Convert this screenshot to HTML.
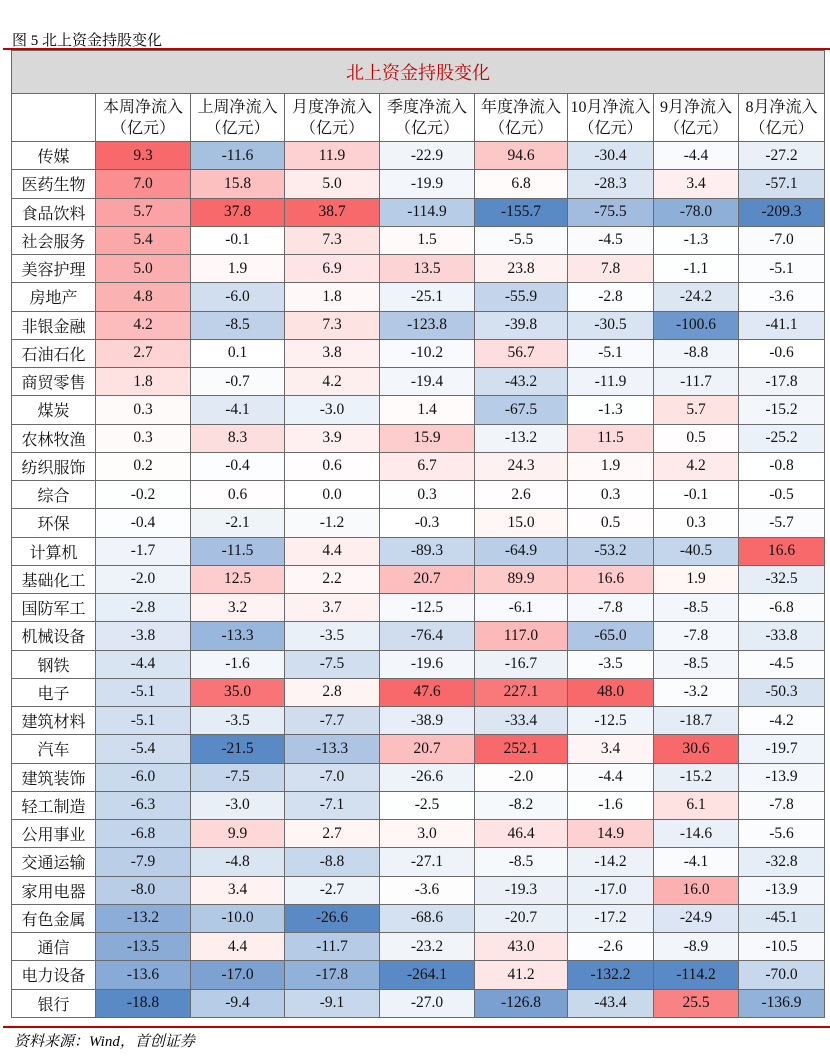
<!DOCTYPE html>
<html><head><meta charset="utf-8"><style>
body{margin:0;width:830px;height:1060px;background:#fff;font-family:"Liberation Serif","Noto Serif CJK SC",serif;position:relative;overflow:hidden}
#cap{position:absolute;left:12px;top:29px;font-size:15px;color:#000}
.rl{position:absolute;left:3px;width:827px;height:2px;background:#c00000}
#src{position:absolute;left:14px;top:1030px;font-size:15px;font-style:italic}
table{position:absolute;left:11px;top:50px;border-collapse:collapse;table-layout:fixed;width:813px}
td{border:1px solid #6a6a6a;text-align:center;font-size:15.5px;padding:0;height:27.25px;color:#111}
td.t{background:#d9d9d9;color:#c00000;font-size:18px;height:42px}
td.h{height:47px;line-height:21px;font-size:16px}
td.l{font-size:16px}
</style></head><body>
<div id="cap">图 5 北上资金持股变化</div>
<div class="rl" style="top:48px"></div>
<table id="tb">
<colgroup><col style="width:84px"><col style="width:95px"><col style="width:94px"><col style="width:95px"><col style="width:95px"><col style="width:93px"><col style="width:86px"><col style="width:85px"><col style="width:86px"></colgroup>
</table>
<div class="rl" style="top:1026px"></div>
<div id="src">资料来源：Wind，首创证券</div>
<script>
const headers=["本周净流入","上周净流入","月度净流入","季度净流入","年度净流入","10月净流入","9月净流入","8月净流入"];
const industries=["传媒","医药生物","食品饮料","社会服务","美容护理","房地产","非银金融","石油石化","商贸零售","煤炭","农林牧渔","纺织服饰","综合","环保","计算机","基础化工","国防军工","机械设备","钢铁","电子","建筑材料","汽车","建筑装饰","轻工制造","公用事业","交通运输","家用电器","有色金属","通信","电力设备","银行"];
const values=[
[9.3,-11.6,11.9,-22.9,94.6,-30.4,-4.4,-27.2],
[7.0,15.8,5.0,-19.9,6.8,-28.3,3.4,-57.1],
[5.7,37.8,38.7,-114.9,-155.7,-75.5,-78.0,-209.3],
[5.4,-0.1,7.3,1.5,-5.5,-4.5,-1.3,-7.0],
[5.0,1.9,6.9,13.5,23.8,7.8,-1.1,-5.1],
[4.8,-6.0,1.8,-25.1,-55.9,-2.8,-24.2,-3.6],
[4.2,-8.5,7.3,-123.8,-39.8,-30.5,-100.6,-41.1],
[2.7,0.1,3.8,-10.2,56.7,-5.1,-8.8,-0.6],
[1.8,-0.7,4.2,-19.4,-43.2,-11.9,-11.7,-17.8],
[0.3,-4.1,-3.0,1.4,-67.5,-1.3,5.7,-15.2],
[0.3,8.3,3.9,15.9,-13.2,11.5,0.5,-25.2],
[0.2,-0.4,0.6,6.7,24.3,1.9,4.2,-0.8],
[-0.2,0.6,0.0,0.3,2.6,0.3,-0.1,-0.5],
[-0.4,-2.1,-1.2,-0.3,15.0,0.5,0.3,-5.7],
[-1.7,-11.5,4.4,-89.3,-64.9,-53.2,-40.5,16.6],
[-2.0,12.5,2.2,20.7,89.9,16.6,1.9,-32.5],
[-2.8,3.2,3.7,-12.5,-6.1,-7.8,-8.5,-6.8],
[-3.8,-13.3,-3.5,-76.4,117.0,-65.0,-7.8,-33.8],
[-4.4,-1.6,-7.5,-19.6,-16.7,-3.5,-8.5,-4.5],
[-5.1,35.0,2.8,47.6,227.1,48.0,-3.2,-50.3],
[-5.1,-3.5,-7.7,-38.9,-33.4,-12.5,-18.7,-4.2],
[-5.4,-21.5,-13.3,20.7,252.1,3.4,30.6,-19.7],
[-6.0,-7.5,-7.0,-26.6,-2.0,-4.4,-15.2,-13.9],
[-6.3,-3.0,-7.1,-2.5,-8.2,-1.6,6.1,-7.8],
[-6.8,9.9,2.7,3.0,46.4,14.9,-14.6,-5.6],
[-7.9,-4.8,-8.8,-27.1,-8.5,-14.2,-4.1,-32.8],
[-8.0,3.4,-2.7,-3.6,-19.3,-17.0,16.0,-13.9],
[-13.2,-10.0,-26.6,-68.6,-20.7,-17.2,-24.9,-45.1],
[-13.5,4.4,-11.7,-23.2,43.0,-2.6,-8.9,-10.5],
[-13.6,-17.0,-17.8,-264.1,41.2,-132.2,-114.2,-70.0],
[-18.8,-9.4,-9.1,-27.0,-126.8,-43.4,25.5,-136.9]];
const tb=document.getElementById('tb');
function mix(c,t){return 'rgb('+c.map(x=>Math.round(255+(x-255)*t)).join(',')+')';}
const mx=headers.map((h,j)=>Math.max(...values.map(r=>r[j])));
const mn=headers.map((h,j)=>Math.min(...values.map(r=>r[j])));
let tr=document.createElement('tr');
let td=document.createElement('td');td.colSpan=9;td.className='t';td.textContent='北上资金持股变化';


tr.appendChild(td);tb.appendChild(tr);
tr=document.createElement('tr');
td=document.createElement('td');td.className='h';


tr.appendChild(td);
headers.forEach(h=>{const c=document.createElement('td');c.className='h';c.innerHTML=h+'<br>（亿元）';


tr.appendChild(c);});
tb.appendChild(tr);
industries.forEach((ind,i)=>{
 const r=document.createElement('tr');
 const l=document.createElement('td');l.className='l';l.textContent=ind;
 
 
 r.appendChild(l);
 values[i].forEach((v,j)=>{
  const c=document.createElement('td');c.textContent=v.toFixed(1);
  c.style.background=v>=0?mix([248,105,107],mx[j]>0?v/mx[j]:0):mix([90,138,198],mn[j]<0?v/mn[j]:0);
  
  
  r.appendChild(c);
 });
 tb.appendChild(r);
});
</script>
</body></html>
